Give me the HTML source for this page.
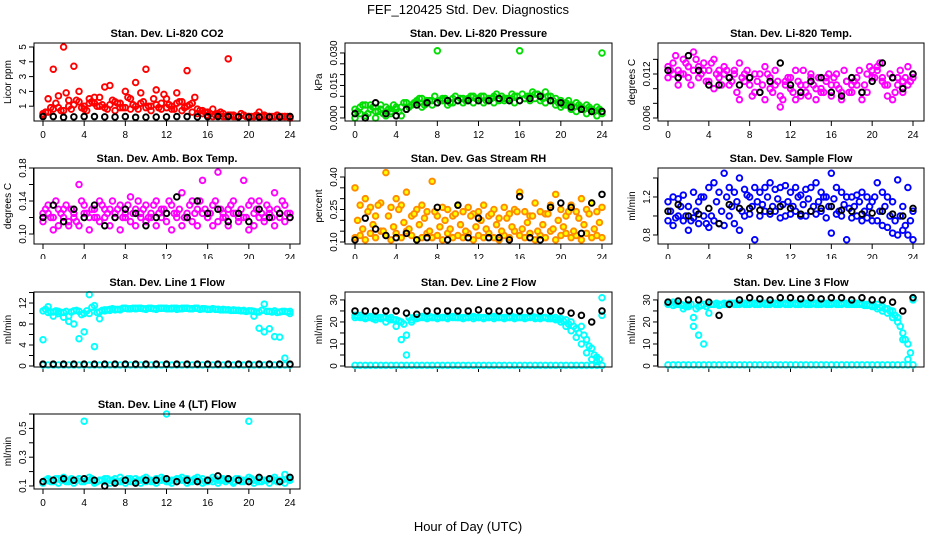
<!DOCTYPE html>
<html><head><meta charset="utf-8"><style>
html,body{margin:0;padding:0;background:#fff;}
svg{display:block;font-family:"Liberation Sans",sans-serif;}
</style></head><body>
<svg id="chart" width="936" height="540">
<text x="468" y="14" text-anchor="middle" font-size="13">FEF_120425  Std. Dev. Diagnostics</text>
<text x="468" y="531" text-anchor="middle" font-size="13">Hour of Day (UTC)</text>
</svg>
<script>
const xTickLabels = ["0","4","8","12","16","20","24"];
const co2A=[0.5,1.5,3.5,1.7,5.0,1.4,3.7,2.0,1.0,1.2,1.6,1.6,2.3,2.4,1.3,0.9,2.0,1.5,2.6,1.9,3.5,1.0,2.1,1.2,1.5,1.0,1.9,1.3,3.4,1.2,0.8,0.5,0.6,0.8,0.4,0.5,4.2,0.4,0.3,0.4,0.3,0.3,0.6,0.3,0.3,0.3,0.3,0.3,0.3];
const co2B=[0.4,0.6,0.8,0.9,0.7,1.0,1.1,1.3,0.8,1.5,1.2,1.0,0.9,1.1,0.7,1.2,0.9,0.8,1.0,1.2,0.9,0.7,1.1,0.8,0.9,0.8,1.2,0.7,1.0,0.6,0.5,0.7,0.4,0.3,0.5,0.3,0.4,0.3,0.3,0.4,0.3,0.3,0.3,0.4,0.3,0.3,0.3,0.3,0.2];
const co2C=[0.6,0.9,1.2,0.7,1.9,0.8,1.4,0.9,0.7,1.3,1.0,1.1,0.8,1.4,1.2,0.9,1.6,1.1,0.8,1.3,1.0,1.5,0.9,1.8,1.1,0.8,1.3,0.9,1.1,1.6,0.7,0.6,0.5,0.4,0.6,0.3,0.4,0.3,0.5,0.3,0.3,0.4,0.3,0.3,0.3,0.4,0.3,0.3];
const co2K=[0.3,0.3,0.25,0.28,0.3,0.3,0.28,0.27,0.3,0.25,0.26,0.27,0.28,0.3,0.3,0.28,0.29,0.3,0.3,0.28,0.27,0.26,0.27,0.28,0.3];
const presA=[0.004,0.002,0.006,0.004,0.003,0.006,0.005,0.002,0.004,0.005,0.007,0.006,0.008,0.009,0.007,0.008,0.031,0.009,0.008,0.009,0.008,0.009,0.009,0.010,0.009,0.010,0.009,0.010,0.009,0.008,0.009,0.010,0.031,0.009,0.010,0.011,0.010,0.012,0.010,0.009,0.008,0.007,0.006,0.007,0.005,0.006,0.004,0.005,0.030];
const presB=[0.000,0.005,0.001,0.006,0.000,0.004,0.001,0.003,0.005,0.001,0.004,0.006,0.007,0.005,0.008,0.006,0.007,0.008,0.006,0.007,0.008,0.007,0.008,0.007,0.008,0.007,0.008,0.007,0.008,0.009,0.008,0.007,0.008,0.009,0.008,0.009,0.008,0.007,0.008,0.006,0.005,0.006,0.004,0.003,0.004,0.002,0.003,0.001,0.002];
const presC=[0.003,0.006,0.002,0.005,0.003,0.002,0.004,0.006,0.003,0.007,0.005,0.007,0.009,0.006,0.008,0.010,0.008,0.009,0.007,0.010,0.009,0.008,0.010,0.009,0.010,0.008,0.009,0.011,0.010,0.009,0.011,0.010,0.011,0.010,0.012,0.011,0.009,0.010,0.008,0.007,0.006,0.008,0.005,0.006,0.004,0.005,0.003,0.004];
const presK=[0.002,0.0,0.007,0.002,0.001,0.004,0.006,0.007,0.007,0.008,0.008,0.008,0.008,0.008,0.009,0.008,0.008,0.009,0.010,0.008,0.007,0.005,0.004,0.003,0.003];
const tempA=[0.013,0.012,0.0125,0.014,0.0115,0.015,0.013,0.0125,0.011,0.014,0.0125,0.012,0.0115,0.012,0.0135,0.011,0.0105,0.012,0.0095,0.013,0.0115,0.0105,0.0075,0.011,0.010,0.0125,0.009,0.0105,0.0115,0.010,0.0095,0.011,0.0105,0.012,0.0095,0.011,0.0105,0.0115,0.0095,0.012,0.0125,0.013,0.0115,0.0105,0.0115,0.0105,0.011,0.013,0.0115];
const tempB=[0.0115,0.0135,0.0105,0.012,0.013,0.0125,0.0115,0.0135,0.0125,0.010,0.0115,0.013,0.0105,0.0125,0.0085,0.012,0.0115,0.0095,0.012,0.0085,0.010,0.0125,0.009,0.0105,0.0115,0.0085,0.0105,0.0095,0.012,0.0085,0.010,0.0115,0.009,0.0105,0.0085,0.011,0.0095,0.0105,0.0085,0.0095,0.0115,0.0125,0.011,0.009,0.0085,0.0115,0.0095,0.0105,0.012];
const tempC=[0.0125,0.0145,0.012,0.0135,0.0105,0.014,0.012,0.011,0.0135,0.012,0.0105,0.0125,0.011,0.0095,0.0115,0.0125,0.009,0.011,0.0105,0.012,0.0095,0.011,0.0085,0.0115,0.0095,0.011,0.0125,0.009,0.0105,0.0115,0.0095,0.012,0.0115,0.01,0.0125,0.0095,0.011,0.0125,0.0105,0.013,0.0115,0.0135,0.0105,0.012,0.0095,0.0125,0.0115,0.011];
const tempK=[0.0125,0.0115,0.0145,0.0125,0.0105,0.0105,0.0115,0.0105,0.0115,0.0095,0.011,0.0135,0.0105,0.0095,0.011,0.0115,0.0095,0.009,0.0115,0.0095,0.011,0.0135,0.0115,0.010,0.012];
const ambA=[0.125,0.135,0.105,0.13,0.12,0.11,0.125,0.16,0.135,0.12,0.13,0.14,0.12,0.13,0.125,0.135,0.12,0.145,0.13,0.125,0.135,0.12,0.14,0.13,0.125,0.135,0.12,0.15,0.125,0.14,0.13,0.165,0.12,0.135,0.175,0.125,0.13,0.14,0.12,0.165,0.135,0.125,0.14,0.12,0.13,0.15,0.125,0.135,0.12];
const ambB=[0.115,0.125,0.12,0.11,0.13,0.115,0.12,0.11,0.125,0.105,0.12,0.115,0.13,0.11,0.12,0.105,0.125,0.115,0.11,0.12,0.115,0.125,0.11,0.12,0.115,0.105,0.125,0.11,0.12,0.115,0.11,0.125,0.12,0.11,0.115,0.12,0.11,0.125,0.115,0.12,0.105,0.11,0.12,0.115,0.125,0.11,0.12,0.115,0.125];
const ambC=[0.13,0.12,0.14,0.125,0.135,0.13,0.115,0.14,0.125,0.13,0.12,0.135,0.125,0.14,0.13,0.12,0.135,0.125,0.14,0.13,0.12,0.135,0.125,0.13,0.14,0.125,0.13,0.12,0.135,0.125,0.14,0.13,0.125,0.14,0.13,0.12,0.135,0.125,0.13,0.12,0.14,0.13,0.125,0.135,0.12,0.13,0.14,0.125];
const ambK=[0.12,0.135,0.115,0.13,0.12,0.135,0.11,0.12,0.13,0.125,0.11,0.12,0.125,0.145,0.12,0.14,0.125,0.13,0.115,0.125,0.115,0.13,0.12,0.125,0.12];
const rhA=[0.35,0.27,0.30,0.26,0.22,0.28,0.42,0.26,0.30,0.27,0.33,0.22,0.25,0.27,0.24,0.38,0.22,0.26,0.25,0.22,0.27,0.24,0.26,0.23,0.24,0.27,0.22,0.25,0.21,0.26,0.23,0.25,0.33,0.24,0.22,0.28,0.24,0.23,0.27,0.32,0.25,0.22,0.27,0.24,0.30,0.25,0.28,0.24,0.26];
const rhB=[0.12,0.13,0.11,0.14,0.12,0.15,0.13,0.11,0.14,0.12,0.15,0.13,0.11,0.12,0.14,0.12,0.13,0.11,0.14,0.12,0.13,0.12,0.14,0.11,0.13,0.12,0.14,0.12,0.11,0.13,0.12,0.15,0.13,0.12,0.14,0.11,0.13,0.12,0.15,0.11,0.13,0.14,0.12,0.13,0.11,0.14,0.12,0.13,0.12];
const rhC=[0.20,0.16,0.24,0.18,0.27,0.15,0.22,0.17,0.25,0.19,0.16,0.23,0.18,0.21,0.15,0.24,0.17,0.20,0.16,0.23,0.18,0.15,0.22,0.17,0.20,0.16,0.23,0.18,0.15,0.21,0.17,0.24,0.16,0.19,0.22,0.15,0.18,0.23,0.16,0.20,0.17,0.24,0.15,0.21,0.18,0.23,0.16,0.19];
const rhK=[0.11,0.21,0.16,0.13,0.12,0.14,0.11,0.12,0.26,0.11,0.27,0.12,0.21,0.12,0.12,0.11,0.31,0.12,0.11,0.26,0.28,0.26,0.14,0.28,0.32];
const sfA=[1.15,1.2,1.18,1.22,1.1,1.25,1.15,1.2,1.3,1.35,1.25,1.45,1.3,1.25,1.4,1.28,1.2,1.3,1.25,1.3,1.35,1.28,1.3,1.32,1.25,1.3,1.22,1.28,1.3,1.35,1.25,1.2,1.45,1.3,1.25,1.2,1.2,1.22,1.25,1.2,1.15,1.35,1.25,1.2,1.15,1.38,1.1,1.3,1.05];
const sfB=[0.95,0.9,1.0,0.95,0.85,0.98,0.92,1.0,0.88,0.95,0.92,0.9,1.0,0.92,0.85,1.0,1.02,0.75,1.0,1.05,1.02,1.05,0.98,1.0,1.02,1.05,1.0,1.0,1.05,1.02,1.05,0.98,0.82,1.02,1.0,0.75,0.98,1.0,0.95,0.98,0.95,0.95,0.9,0.88,0.82,0.8,0.85,0.8,0.75];
const sfC=[1.05,0.98,1.1,1.0,0.95,1.05,1.2,0.92,1.0,1.15,1.05,1.2,1.1,1.15,1.05,1.22,1.1,1.15,1.12,1.2,1.1,1.18,1.12,1.15,1.1,1.2,1.12,1.18,1.1,1.15,1.2,1.1,1.18,1.05,1.12,1.08,1.1,1.15,1.05,1.1,1.2,1.05,1.1,1.0,0.95,1.0,0.9,0.95];
const sfK=[1.05,1.12,1.0,1.02,1.08,0.92,1.12,1.08,1.08,1.06,1.05,1.1,1.08,1.02,1.05,1.08,1.1,1.06,1.05,1.02,1.03,1.05,1.02,1.0,1.08];
const l1A=[10.5,10.2,10.3,10.4,10.2,9.5,10.5,10.4,10.0,13.6,11.5,10.3,10.5,10.8,10.7,10.8,11.0,10.9,10.9,11.0,10.9,11.0,10.8,11.0,11.0,10.9,11.0,10.9,11.0,10.9,11.0,10.9,10.8,10.9,10.8,10.8,10.7,10.7,10.6,10.6,10.5,10.4,10.3,11.8,10.4,10.5,10.3,10.4,10.4];
const l1B=[5.0,11.3,9.5,10.0,9.3,8.5,8.0,5.2,6.5,10.0,3.7,9.0,10.7,10.6,10.8,10.7,11.0,10.9,11.0,11.0,10.8,11.0,10.9,11.0,10.9,11.0,10.8,11.0,11.0,10.9,11.0,10.9,10.8,10.9,10.8,10.7,10.7,10.6,10.6,10.5,10.5,9.5,7.2,6.5,7.1,5.6,5.5,1.5,10.0];
const l1C=[10.8,10.3,10.5,10.2,10.4,10.3,10.6,9.8,10.5,11.2,10.2,10.6,10.7,10.9,10.8,11.0,10.9,11.0,11.0,10.9,11.0,10.9,11.0,11.0,10.9,11.0,10.9,11.0,10.9,11.0,10.8,10.9,10.8,10.8,10.7,10.7,10.6,10.6,10.5,10.4,10.5,10.3,10.6,10.4,10.3,10.2,10.4,10.3];
const l1Base=[0.2,0.2,0.2,0.2,0.2,0.2,0.2,0.2,0.2,0.2,0.2,0.2,0.2,0.2,0.2,0.2,0.2,0.2,0.2,0.2,0.2,0.2,0.2,0.2,0.2,0.2,0.2,0.2,0.2,0.2,0.2,0.2,0.2,0.2,0.2,0.2,0.2,0.2,0.2,0.2,0.2,0.2,0.2,0.2,0.2,0.2,0.2,0.2,0.2];
const l1K=[0.35,0.35,0.35,0.35,0.35,0.35,0.35,0.35,0.35,0.35,0.35,0.35,0.35,0.35,0.35,0.35,0.35,0.35,0.35,0.35,0.35,0.35,0.35,0.35,0.35];
const l2A=[22,23,22,22.5,22,21.5,22,22,21,20,14,21,22,22.5,22,22,22,22,22,22.5,22,22,22,22.5,22,22,22,22.5,22,22,22,22,22,22,22.5,22,22,22,22,22,21.5,21,20,17,18,12,8,4,23];
const l2B=[23,22,21.5,22,21,22,20,21,18,12,5,20,21.5,22,21.5,22,21.5,22,21.5,22,22,21.5,22,21.5,22,21.5,22,21.5,22,21.5,22,21.5,22,21.5,22,21.5,21.5,22,21.5,21,20,18,16,13,10,6,3,2,31];
const l2C=[22.5,22,22,21.5,22,22,21.5,21,20.5,19,22,22,22,22,22.5,22,22,22,22.5,22,22,22,22.5,22,22,22,22.5,22,22,22,22.5,22,22,22,22.5,22,22,21.5,21.5,21,20.5,19,18,15,14,9,5,3];
const l2Base=[0.3,0.3,0.3,0.3,0.3,0.3,0.3,0.3,0.3,0.3,0.3,0.3,0.3,0.3,0.3,0.3,0.3,0.3,0.3,0.3,0.3,0.3,0.3,0.3,0.3,0.3,0.3,0.3,0.3,0.3,0.3,0.3,0.3,0.3,0.3,0.3,0.3,0.3,0.3,0.3,0.3,0.3,0.3,0.3,0.3,0.3,0.3,0.3,0.3];
const l2K=[25,25,25,25,25,24,23.5,25,25,25,25,25,25.5,25,25,25,25,25,25,25,25,24,23,20,25];
const l3A=[28,29,28,27.5,28,22,27,28,28,28,28,28,28.5,28,28.5,28,28.5,28,28.5,28,28.5,28,28.5,28,28.5,28,28.5,28,28.5,28,28.5,28,28.5,28,28.5,28,28,28.5,28,28,27.5,28,27,26,25,22,15,10,31];
const l3B=[29,27.5,28.5,26,27,18,14,10,24,28,27.5,28.5,28,28.5,28,28.5,28,28.5,28,28.5,28,28.5,28,28.5,28,28.5,28,28.5,28,28.5,28,28.5,28,28.5,28,28.5,28.5,28,28.5,27.5,27,26,25,24,22,20,12,3,30];
const l3C=[28.5,28,28,27,28,26,27.5,27,28,28.5,28,28,28.5,28,28.5,28,28.5,28,28.5,28,28.5,28,28.5,28,28.5,28,28.5,28,28.5,28,28.5,28,28.5,28,28.5,28,28,28,27.5,27.5,27,26.5,26,25,23,18,12,6];
const l3Base=[0.5,0.5,0.5,0.5,0.5,0.5,0.5,0.5,0.5,0.5,0.5,0.5,0.5,0.5,0.5,0.5,0.5,0.5,0.5,0.5,0.5,0.5,0.5,0.5,0.5,0.5,0.5,0.5,0.5,0.5,0.5,0.5,0.5,0.5,0.5,0.5,0.5,0.5,0.5,0.5,0.5,0.5,0.5,0.5,0.5,0.5,0.5,0.5,0.5];
const l3K=[29,29.5,30,30,29,23,28,30,31,30.5,30,31,31,30.5,31,30.5,31,31,30,31,30,30,29,25,31];
const l4A=[0.13,0.14,0.13,0.15,0.14,0.13,0.14,0.15,0.55,0.14,0.13,0.14,0.13,0.14,0.15,0.13,0.14,0.13,0.15,0.14,0.13,0.14,0.15,0.14,0.6,0.14,0.13,0.14,0.15,0.13,0.14,0.15,0.14,0.13,0.14,0.15,0.14,0.13,0.15,0.14,0.55,0.14,0.13,0.14,0.15,0.14,0.13,0.18,0.14];
const l4B=[0.12,0.15,0.14,0.12,0.16,0.14,0.12,0.15,0.13,0.16,0.12,0.14,0.15,0.12,0.13,0.16,0.12,0.15,0.13,0.12,0.16,0.13,0.12,0.16,0.13,0.12,0.15,0.16,0.12,0.14,0.16,0.12,0.13,0.16,0.12,0.14,0.15,0.12,0.14,0.13,0.16,0.12,0.15,0.14,0.12,0.16,0.14,0.12,0.15];
const l4C=[0.14,0.13,0.15,0.14,0.13,0.15,0.14,0.13,0.14,0.15,0.13,0.14,0.15,0.14,0.13,0.14,0.15,0.13,0.14,0.15,0.14,0.13,0.14,0.15,0.13,0.14,0.15,0.14,0.13,0.15,0.14,0.13,0.14,0.15,0.14,0.13,0.14,0.15,0.13,0.14,0.15,0.14,0.13,0.14,0.15,0.13,0.14,0.15];
const l4K=[0.13,0.14,0.15,0.14,0.15,0.14,0.1,0.12,0.14,0.12,0.14,0.14,0.15,0.13,0.14,0.13,0.14,0.17,0.15,0.14,0.13,0.16,0.15,0.13,0.16];

const NS="http://www.w3.org/2000/svg";
const svg=document.getElementById('chart');
const cols=[{l:34,r:300,x0:43,x24:290},{l:345,r:612,x0:355,x24:602},{l:658,r:924,x0:668,x24:913}];
const rows=[{t:43,b:121},{t:168,b:244},{t:292,b:367},{t:414,b:489}];
const OR="#ff8c00",YE="#ff0";
const panels=[
 {c:0,r:0,title:"Stan. Dev. Li-820 CO2",ylab:"Licor ppm",min:0,max:5.27,ticks:[1,2,3,4,5],labels:["1","2","3","4","5"],series:[[co2A,"#f00"],[co2B,"#f00"],[co2C,"#f00",null,0.25],[co2K,"#000"]]},
 {c:1,r:0,title:"Stan. Dev. Li-820 Pressure",ylab:"kPa",min:-0.0014,max:0.0346,ticks:[0,0.005,0.01,0.015,0.02,0.025,0.03],labels:["0.000","","","0.015","","","0.030"],series:[[presA,"#0d0"],[presB,"#0d0"],[presC,"#0d0",null,0.25],[presK,"#000"]]},
 {c:2,r:0,title:"Stan. Dev. Li-820 Temp.",ylab:"degrees C",min:0.00559,max:0.01623,ticks:[0.006,0.008,0.010,0.012,0.014],labels:["0.006","","","0.012",""],series:[[tempA,"#f0f"],[tempB,"#f0f"],[tempC,"#f0f",null,0.25],[tempK,"#000"]]},
 {c:0,r:1,title:"Stan. Dev. Amb. Box Temp.",ylab:"degrees C",min:0.0879,max:0.18,ticks:[0.10,0.12,0.14,0.16,0.18],labels:["0.10","","0.14","","0.18"],series:[[ambA,"#f0f"],[ambB,"#f0f"],[ambC,"#f0f",null,0.25],[ambK,"#000"]]},
 {c:1,r:1,title:"Stan. Dev. Gas Stream RH",ylab:"percent",min:0.0908,max:0.4415,ticks:[0.10,0.15,0.20,0.25,0.30,0.35,0.40],labels:["0.10","","","0.25","","","0.40"],series:[[rhA,OR,YE],[rhB,OR,YE],[rhC,OR,YE,0.25],[rhK,"#000"]]},
 {c:2,r:1,title:"Stan. Dev. Sample Flow",ylab:"ml/min",min:0.705,max:1.505,ticks:[0.8,1.0,1.2,1.4],labels:["0.8","","1.2",""],series:[[sfA,"#00f"],[sfB,"#00f"],[sfC,"#00f",null,0.25],[sfK,"#000"]]},
 {c:0,r:2,title:"Stan. Dev. Line 1 Flow",ylab:"ml/min",min:-0.19,max:14.1,ticks:[0,2,4,6,8,10,12,14],labels:["0","","4","","8","","12",""],series:[[l1A,"#0ff"],[l1B,"#0ff"],[l1C,"#0ff",null,0.25],[l1Base,"#0ff"],[l1K,"#000"]]},
 {c:1,r:2,title:"Stan. Dev. Line 2 Flow",ylab:"ml/min",min:-0.45,max:33.6,ticks:[0,5,10,15,20,25,30],labels:["0","","10","","20","","30"],series:[[l2A,"#0ff"],[l2B,"#0ff"],[l2C,"#0ff",null,0.25],[l2Base,"#0ff"],[l2K,"#000"]]},
 {c:2,r:2,title:"Stan. Dev. Line 3 Flow",ylab:"ml/min",min:-0.45,max:33.6,ticks:[0,5,10,15,20,25,30],labels:["0","","10","","20","","30"],series:[[l3A,"#0ff"],[l3B,"#0ff"],[l3C,"#0ff",null,0.25],[l3Base,"#0ff"],[l3K,"#000"]]},
 {c:0,r:3,title:"Stan. Dev. Line 4 (LT) Flow",ylab:"ml/min",min:0.079,max:0.6,ticks:[0.1,0.2,0.3,0.4,0.5,0.6],labels:["0.1","","0.3","","0.5",""],series:[[l4A,"#0ff"],[l4B,"#0ff"],[l4C,"#0ff",null,0.25],[l4K,"#000"]]}
];
function mk(tag,attrs,parent){const e=document.createElementNS(NS,tag);for(const k in attrs)e.setAttribute(k,attrs[k]);(parent||svg).appendChild(e);return e;}
const defs=mk('defs',{});
const cp=mk('clipPath',{id:'clipRow2'},defs);
mk('rect',{x:0,y:0,width:936,height:259},cp);
panels.forEach((p,pi)=>{
 const C=cols[p.c],R=rows[p.r];
 const g=mk('g',{});
 
 
 const xs=h=>C.x0+(C.x24-C.x0)*h/24;
 const ys=v=>R.b-(v-p.min)/(p.max-p.min)*(R.b-R.t);
 const t=mk('text',{x:(C.l+C.r)/2,y:R.t-6,'text-anchor':'middle','font-size':11,'font-weight':'bold'},g);
 t.textContent=p.title;
 
 
 const yl=mk('text',{transform:`translate(${C.l-23},${(R.t+R.b)/2}) rotate(-90)`,'text-anchor':'middle','font-size':10},g);
 yl.textContent=p.ylab;
 
 
 p.ticks.forEach((v,i)=>{
  const y=ys(v);
  mk('line',{x1:C.l-5,x2:C.l,y1:y,y2:y,stroke:'#000','stroke-width':1},g);
  if(p.labels[i]){const tl=mk('text',{transform:`translate(${C.l-8},${y}) rotate(-90)`,'text-anchor':'middle','font-size':10},g);
   tl.textContent=p.labels[i];
   
   }
 });
 mk('line',{x1:C.l-0.5,x2:C.l-0.5,y1:ys(p.ticks[0]),y2:ys(p.ticks[p.ticks.length-1]),stroke:'#000'},g);
 xTickLabels.forEach((lab,i)=>{
  const x=xs(i*4);
  mk('line',{x1:x,x2:x,y1:R.b,y2:R.b+5,stroke:'#000'},g);
  if(p.r!==2){const tl=mk('text',{x:x,y:R.b+17,'text-anchor':'middle','font-size':10},g);
   tl.textContent=lab;
   
   
   if(p.r===1) tl.setAttribute('clip-path','url(#clipRow2)');}
 });
 const pts=mk('g',{},g);
 
 
 p.series.forEach(s=>{
  const arr=s[0],n=arr.length,off=s[3]||0,step=(24-2*off)/(n-1);
  arr.forEach((v,i)=>{
   const c=mk('circle',{cx:xs(off+i*step),cy:ys(v),r:2.8,fill:s[2]||'none',stroke:s[1],'stroke-width':1.9},pts);
   
   
  });
 });
 const box=mk('rect',{x:C.l,y:R.t,width:C.r-C.l,height:R.b-R.t,fill:'none',stroke:'#000','stroke-width':1},g);
 
 
});
</script>
</body></html>
